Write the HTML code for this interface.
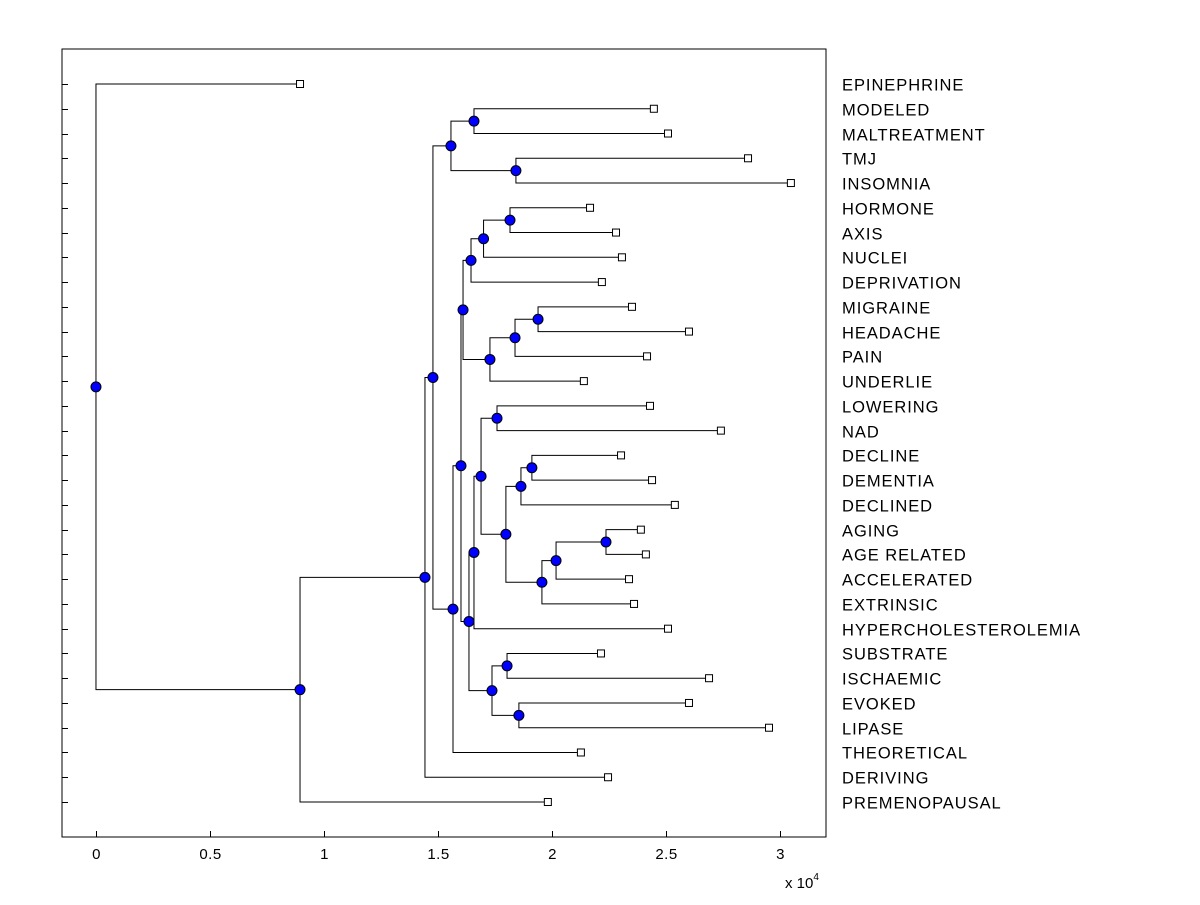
<!DOCTYPE html>
<html><head><meta charset="utf-8"><style>
body{margin:0;background:#fff;}
svg text{font-family:"Liberation Sans",Arial,sans-serif;}
</style></head><body>
<svg id="chart" width="1200" height="900" xmlns="http://www.w3.org/2000/svg">
<rect x="0" y="0" width="1200" height="900" fill="#fff"/>
<g id="plot"></g>
</svg>
<script>
const leafNames=["EPINEPHRINE","MODELED","MALTREATMENT","TMJ","INSOMNIA","HORMONE","AXIS","NUCLEI","DEPRIVATION","MIGRAINE","HEADACHE","PAIN","UNDERLIE","LOWERING","NAD","DECLINE","DEMENTIA","DECLINED","AGING","AGE RELATED","ACCELERATED","EXTRINSIC","HYPERCHOLESTEROLEMIA","SUBSTRATE","ISCHAEMIC","EVOKED","LIPASE","THEORETICAL","DERIVING","PREMENOPAUSAL"];
const leafValues=[0.895,2.447,2.509,2.86,3.048,2.167,2.281,2.307,2.219,2.351,2.601,2.417,2.14,2.43,2.741,2.303,2.439,2.539,2.39,2.412,2.338,2.36,2.509,2.215,2.689,2.601,2.952,2.127,2.246,1.982];
const nodeIds=["root","nLow","n1","n2","nTop","nA","nB","nMid","n3","n4","n6","n8","n9","n7","n10","n11","n5","n12","n16","n17","n18","n19","n21","n20","n22","n23","n13","n14","n15"];
const nodeValues=[0,0.895,1.443,1.478,1.557,1.658,1.842,1.566,1.601,1.61,1.645,1.70,1.816,1.728,1.838,1.939,1.636,1.658,1.689,1.759,1.798,1.864,1.912,1.956,2.018,2.237,1.737,1.803,1.855];
const nodeLeft=["EPINEPHRINE","n1","n2","nTop","nA","MODELED","TMJ","n3","n4","n6","n8","n9","HORMONE","n10","n11","MIGRAINE","n12","n16","n17","LOWERING","n19","n21","DECLINE","n22","n23","AGING","n14","SUBSTRATE","EVOKED"];
const nodeRight=["nLow","PREMENOPAUSAL","DERIVING","nMid","nB","MALTREATMENT","INSOMNIA","THEORETICAL","n5","n7","DEPRIVATION","NUCLEI","AXIS","UNDERLIE","PAIN","HEADACHE","n13","HYPERCHOLESTEROLEMIA","n18","NAD","n20","DECLINED","DEMENTIA","EXTRINSIC","ACCELERATED","AGE RELATED","n15","ISCHAEMIC","LIPASE"];
const xTicks=[0,0.5,1,1.5,2,2.5,3];
const xTickLabels=["0","0.5","1","1.5","2","2.5","3"];

const L=62,R=826,T=49,B=837, xMin=-0.149, xMax=3.202;
const X=v=>L+(v-xMin)/(xMax-xMin)*(R-L);
const Y=i=>84+i*(802-84)/(leafNames.length-1);
const NS="http://www.w3.org/2000/svg";
const g=document.getElementById('plot');
function mk(t,a){const e=document.createElementNS(NS,t);for(const k in a)e.setAttribute(k,a[k]);g.appendChild(e);return e;}

const pos={};
leafNames.forEach((n,i)=>pos[n]={x:X(leafValues[i]),y:Y(i)});
function getPos(id){
  if(pos[id])return pos[id];
  const k=nodeIds.indexOf(id);
  const a=getPos(nodeLeft[k]),b=getPos(nodeRight[k]);
  pos[id]={x:X(nodeValues[k]),y:(a.y+b.y)/2};
  return pos[id];
}
nodeIds.forEach(getPos);

let f=mk('rect',{x:L,y:T,width:R-L,height:B-T,fill:'none',stroke:'#000','stroke-width':1});


xTicks.forEach((v,i)=>{
  const x=Math.round(X(v))+0.5;
  let t=mk('line',{x1:x,y1:B,x2:x,y2:B-6,stroke:'#000'});
  
  let tl=mk('text',{x:x,y:B+22,'text-anchor':'middle','font-size':15,'letter-spacing':0.5});
  tl.textContent=xTickLabels[i];
  
});
let ex=mk('text',{x:785,y:888,'font-size':15});
ex.innerHTML='x 10<tspan dy="-8" font-size="10">4</tspan>';


leafNames.forEach((n,i)=>{
  const y=Math.round(Y(i))+0.5;
  let t=mk('line',{x1:L,y1:y,x2:L+6,y2:y,stroke:'#000'});
  
  let tl=mk('text',{x:842,y:y+6,'font-size':16.5,'letter-spacing':0.95});
  tl.textContent=n;
  
});

nodeIds.forEach((id,k)=>{
  const p=pos[id],a=pos[nodeLeft[k]],b=pos[nodeRight[k]];
  let pa=mk('path',{d:`M${a.x},${a.y}H${p.x}V${b.y}H${b.x}`,fill:'none',stroke:'#000','stroke-width':1});
  
});
leafNames.forEach((n,i)=>{
  const p=pos[n];
  let s=mk('rect',{x:p.x-3.5,y:p.y-3.5,width:7,height:7,fill:'#fff',stroke:'#000'});
  
});
nodeIds.forEach(id=>{
  const p=pos[id];
  let c=mk('circle',{cx:p.x,cy:p.y,r:5,fill:'#0000ff',stroke:'#000','stroke-width':1});
  
});
</script>
</body></html>
